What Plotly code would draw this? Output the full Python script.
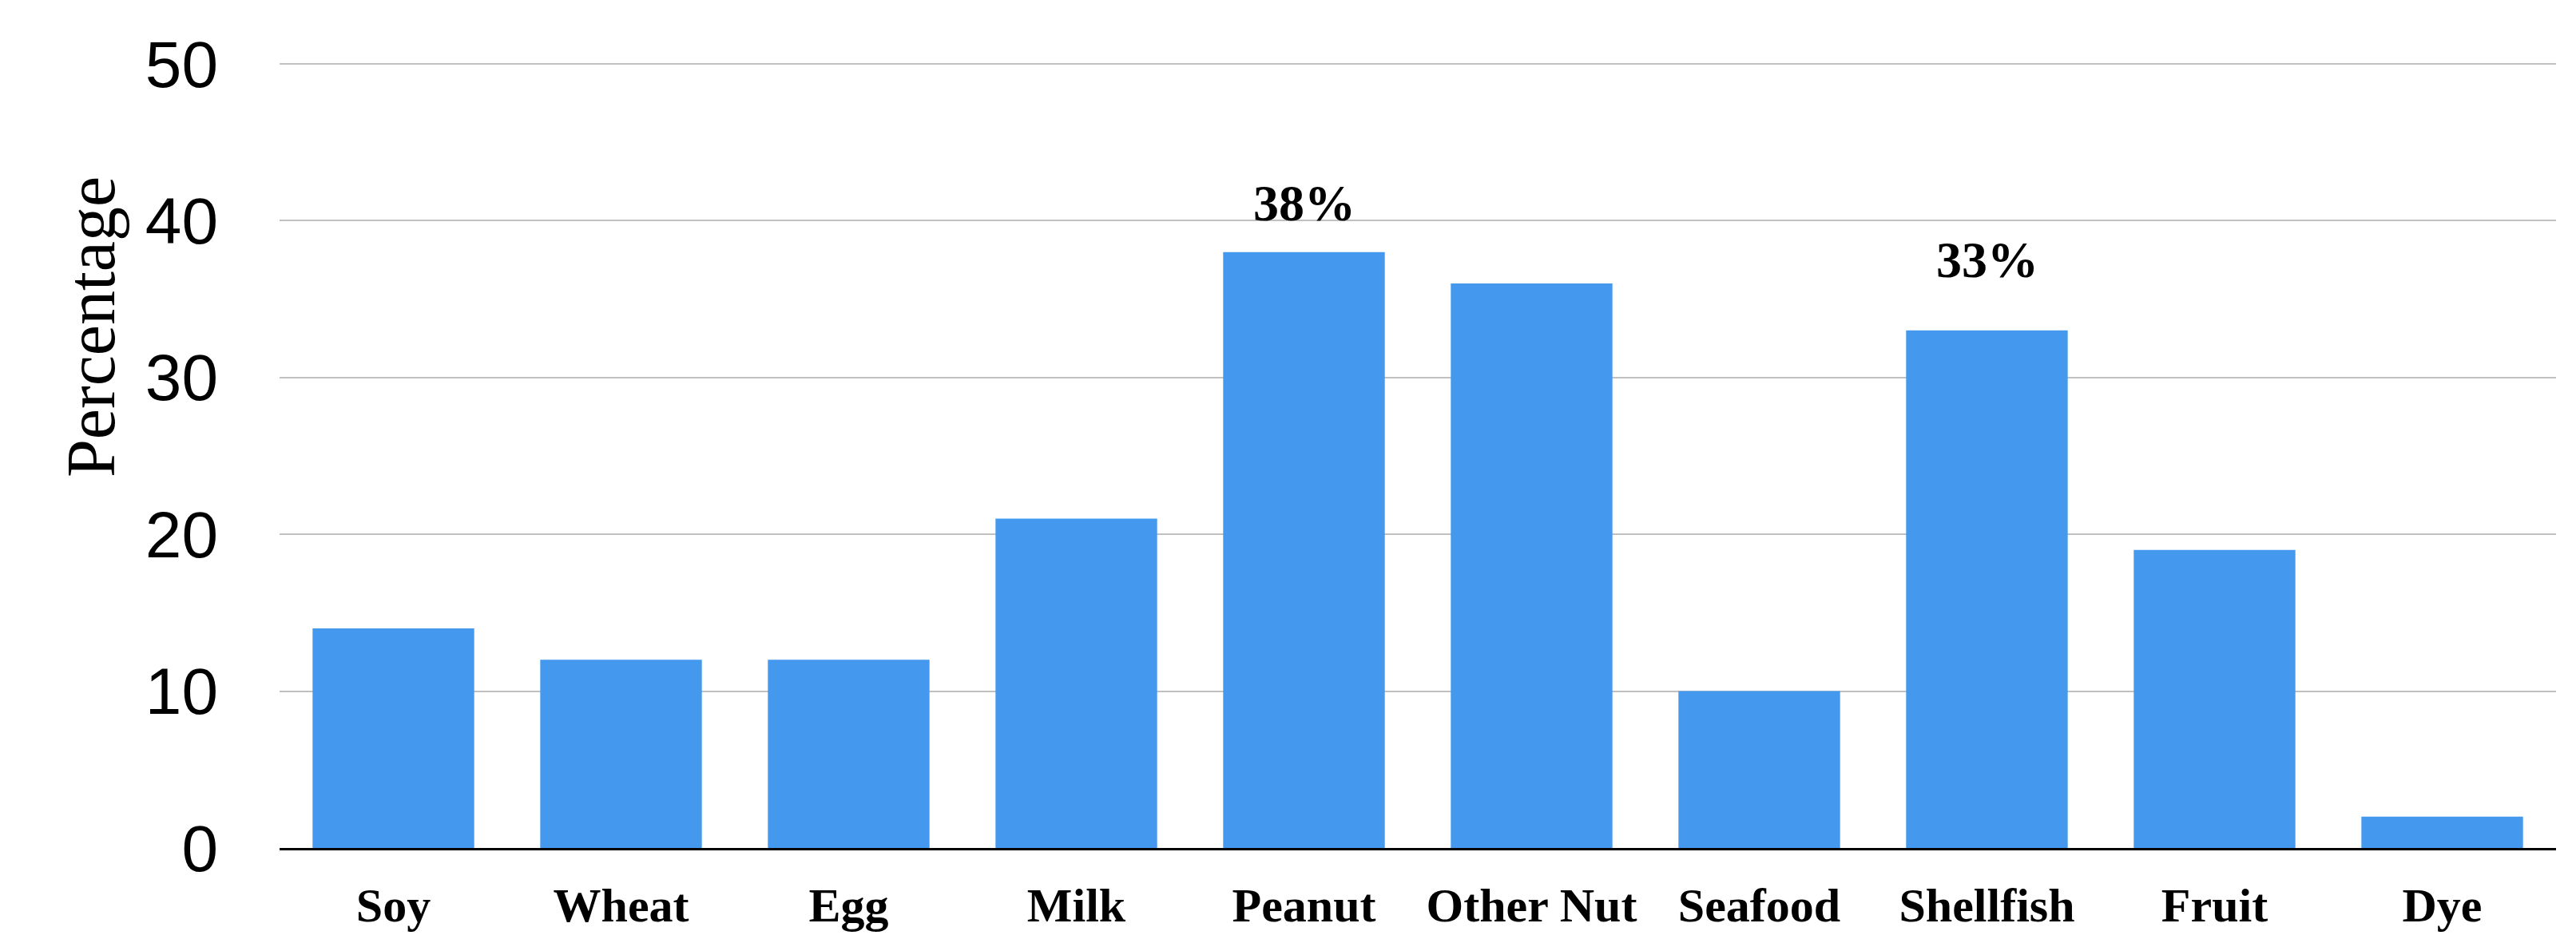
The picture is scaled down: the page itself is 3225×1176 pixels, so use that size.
import plotly.graph_objects as go

# Allergen categories and share of respondents (%)
categories = ["Soy", "Wheat", "Egg", "Milk", "Peanut", "Other Nut",
              "Seafood", "Shellfish", "Fruit", "Dye"]
percentages = [14, 12, 12, 21, 38, 36, 10, 33, 19, 2]

# Highlighted values written above their bars, with a vertical nudge in px
highlight_categories = ["Peanut", "Shellfish"]
highlight_shift = [38, 65]

y_ticks = [0, 10, 20, 30, 40, 50]

BAR_BLUE = "#4499EE"
SERIF = "Liberation Serif, Times New Roman, serif"
SANS = "Liberation Sans, Arial, sans-serif"

# plot area in pixels
PLOT_L, PLOT_R, PLOT_T, PLOT_B = 350, 3200, 78, 1062

fig = go.Figure(
    go.Bar(
        x=categories,
        y=percentages,
        marker=dict(color=BAR_BLUE, line=dict(width=0)),
        hoverinfo="x+y",
    )
)

for cat, shift in zip(highlight_categories, highlight_shift):
    val = percentages[categories.index(cat)]
    fig.add_annotation(
        x=cat, y=val, xref="x", yref="y",
        text=f"<b>{val}%</b>",
        showarrow=False, yanchor="bottom", yshift=shift - 14,
        font=dict(family=SERIF, size=64, color="black"),
    )

# Rotated y-axis title placed as a free annotation
fig.add_annotation(
    xref="x domain", yref="y domain",
    x=(114 - PLOT_L) / (PLOT_R - PLOT_L),
    y=(PLOT_B - 410) / (PLOT_B - PLOT_T),
    xanchor="center", yanchor="middle",
    text="Percentage", textangle=-90, showarrow=False,
    font=dict(family=SERIF, size=86, color="black"),
)

fig.update_layout(
    width=3225, height=1176,
    margin=dict(l=PLOT_L, r=3225 - PLOT_R, t=PLOT_T, b=1176 - PLOT_B, pad=0),
    paper_bgcolor="white", plot_bgcolor="white",
    bargap=0.29,
    showlegend=False,
    xaxis=dict(
        automargin=False,
        showgrid=False, showline=True, linecolor="black", linewidth=3,
        ticks="", ticklabelstandoff=17,
        tickfont=dict(family=SERIF, size=60, color="black", weight="bold"),
    ),
    yaxis=dict(
        automargin=False,
        range=[0, 50.1], tickvals=y_ticks, showline=False, zeroline=False,
        showgrid=True, gridcolor="#c0c0c0", gridwidth=2,
        ticks="", ticklabelstandoff=76,
        tickfont=dict(family=SANS, size=82, color="black"),
    ),
)

fig.write_html("out.html")
